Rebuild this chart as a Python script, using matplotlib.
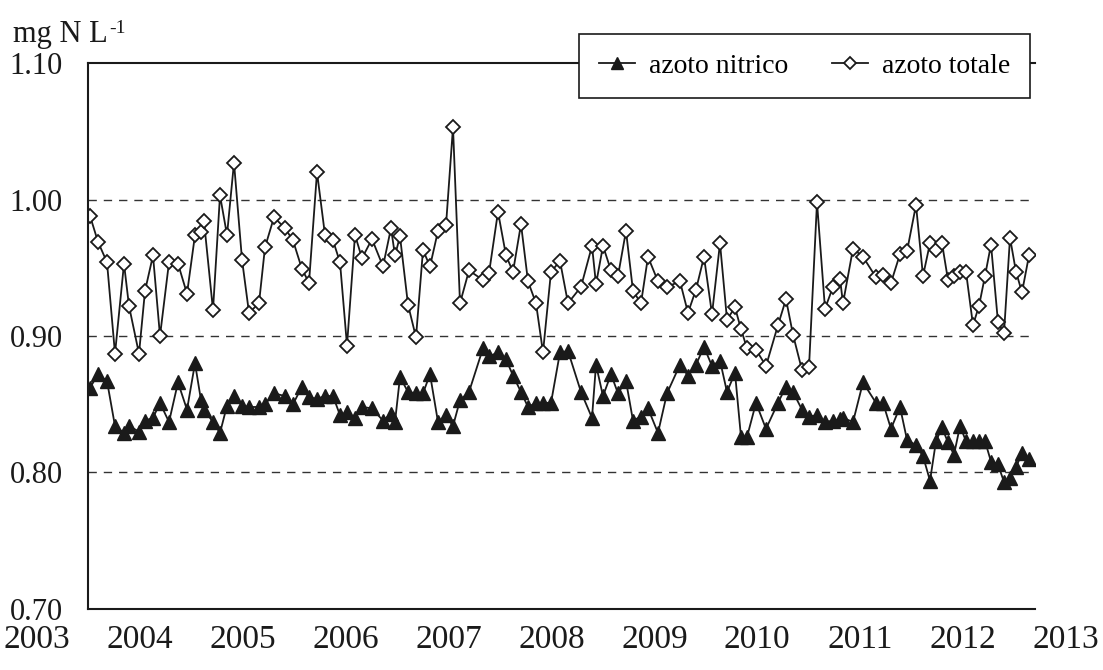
import matplotlib.pyplot as plt
import numpy as np

plt.rcParams['font.family'] = ['Liberation Serif', 'DejaVu Serif']

# sample positions (2003 at 88 px, 94.7 px per year)
pos_px = [90, 98, 107, 115, 124, 129, 139, 145, 153, 160, 169, 178,
          187, 195, 201, 204, 213, 220, 227, 234, 242, 249, 259, 265, 274,
          285, 293, 302, 309, 317, 325, 333, 340, 347, 355, 362, 372,
          383, 391, 395, 400, 408, 416, 423, 430, 438, 446, 453, 460,
          469, 483, 489, 498, 506, 513, 521, 528, 536, 543, 551, 560,
          568, 581, 592, 596, 603, 611, 618, 626, 633, 641, 648,
          658, 667, 680, 688, 696, 704, 712, 720, 727, 735, 741, 747,
          756, 766, 778, 786, 793, 802, 809, 817, 825, 833, 840, 843,
          853, 863, 876, 883, 891, 900, 907, 916, 923, 930, 936, 942,
          948, 954, 960, 966, 973, 979, 985, 991, 998, 1004, 1010, 1016, 1022, 1029]
dates = 2003 + (np.array(pos_px) - 88) / 94.7

azoto_totale = [0.988, 0.969, 0.954, 0.887, 0.953, 0.922, 0.887, 0.933, 0.959, 0.900, 0.954, 0.953,
                0.931, 0.974, 0.976, 0.984, 0.919, 1.003, 0.974, 1.027, 0.956, 0.917, 0.924, 0.965, 0.987,
                0.979, 0.970, 0.949, 0.939, 1.020, 0.974, 0.970, 0.954, 0.893, 0.974, 0.957, 0.971,
                0.951, 0.979, 0.959, 0.973, 0.923, 0.899, 0.963, 0.951, 0.977, 0.981, 1.053, 0.924,
                0.948, 0.941, 0.946, 0.991, 0.959, 0.947, 0.982, 0.940, 0.924, 0.888, 0.947, 0.955,
                0.924, 0.936, 0.966, 0.938, 0.966, 0.948, 0.944, 0.977, 0.933, 0.924, 0.958,
                0.940, 0.936, 0.940, 0.917, 0.934, 0.958, 0.916, 0.968, 0.912, 0.921, 0.905, 0.891,
                0.890, 0.878, 0.908, 0.927, 0.901, 0.875, 0.877, 0.998, 0.920, 0.936, 0.942, 0.924,
                0.964, 0.958, 0.943, 0.945, 0.939, 0.960, 0.962, 0.996, 0.944, 0.968, 0.963, 0.968,
                0.941, 0.944, 0.947, 0.947, 0.908, 0.922, 0.944, 0.967, 0.910, 0.902, 0.972, 0.947, 0.932, 0.959]

azoto_nitrico = [0.862, 0.872, 0.867, 0.834, 0.829, 0.834, 0.830, 0.838, 0.840, 0.851, 0.837, 0.866,
                 0.846, 0.880, 0.853, 0.846, 0.837, 0.829, 0.849, 0.856, 0.849, 0.848, 0.848, 0.850, 0.858,
                 0.856, 0.850, 0.863, 0.855, 0.854, 0.856, 0.856, 0.842, 0.844, 0.840, 0.848, 0.847,
                 0.838, 0.843, 0.837, 0.870, 0.859, 0.858, 0.858, 0.872, 0.837, 0.842, 0.834, 0.853,
                 0.859, 0.891, 0.885, 0.888, 0.883, 0.871, 0.859, 0.848, 0.851, 0.851, 0.851, 0.888,
                 0.889, 0.859, 0.840, 0.879, 0.856, 0.872, 0.858, 0.867, 0.838, 0.841, 0.847,
                 0.829, 0.858, 0.879, 0.871, 0.879, 0.892, 0.878, 0.882, 0.859, 0.873, 0.826, 0.826,
                 0.851, 0.832, 0.851, 0.863, 0.859, 0.846, 0.841, 0.842, 0.837, 0.838, 0.839, 0.840,
                 0.837, 0.866, 0.851, 0.851, 0.832, 0.848, 0.824, 0.820, 0.812, 0.794, 0.823, 0.833,
                 0.822, 0.813, 0.834, 0.823, 0.823, 0.823, 0.823, 0.808, 0.806, 0.793, 0.796, 0.804, 0.814, 0.810]

years = list(range(2003, 2014))
yticks = [0.70, 0.80, 0.90, 1.00, 1.10]

W, H = 1103, 670
fig = plt.figure(figsize=(W / 100, H / 100), dpi=100)
ax = fig.add_axes([88 / W, 1 - 609 / H, (1035 - 88) / W, (609 - 63) / H])

ink = '#1a1a1a'
ax.plot(dates, azoto_nitrico, '-', color=ink, lw=1.3, marker='^', ms=10,
        mfc=ink, mec=ink, label='azoto nitrico')
ax.plot(dates, azoto_totale, '-', color=ink, lw=1.3, marker='D', ms=7.5,
        mfc='white', mec=ink, mew=1.3, label='azoto totale')

for g in [0.80, 0.90, 1.00]:
    ax.axhline(g, color='#333333', lw=1.0, ls=(0, (6, 5)), zorder=0)

ax.set_xlim(2003, 2013)
ax.set_ylim(0.70, 1.10)
ax.set_xticks(years)
ax.set_xticklabels([])
ax.set_yticks(yticks)
ax.set_yticklabels(['%.2f' % v for v in yticks])
ax.tick_params(axis='y', labelsize=22, length=0, pad=18, colors=ink)
ax.tick_params(axis='x', length=0)
ax.spines['right'].set_visible(False)
for s in ['left', 'bottom', 'top']:
    ax.spines[s].set_linewidth(1.5)
    ax.spines[s].set_color(ink)

# year labels are spread over the full width of the figure, as in the original
for i, yr in enumerate(years):
    fig.text((37 + i * 102.9) / W, 1 - 640 / H, str(yr), fontsize=24,
             ha='center', va='center', color=ink)

# unit label with a small superscript
unit = fig.text(13 / W, 1 - 42 / H, 'mg N L', fontsize=22, ha='left', va='baseline', color=ink)
fig.canvas.draw()
bb = unit.get_window_extent()
fig.text(bb.x1 / W + 1 / W, 1 - 33 / H, '-1', fontsize=14, ha='left', va='baseline', color=ink)

leg = ax.legend(loc='upper right', bbox_to_anchor=(1030 / W, 1 - 34 / H),
                bbox_transform=fig.transFigure, ncol=2, fontsize=20, frameon=True,
                fancybox=False, edgecolor=ink, framealpha=1, handlelength=1.3,
                handletextpad=0.5, columnspacing=1.6, borderpad=0.7, borderaxespad=0,
                markerscale=0.85)
leg.get_frame().set_linewidth(1.2)

plt.savefig('out.png', dpi=100)
